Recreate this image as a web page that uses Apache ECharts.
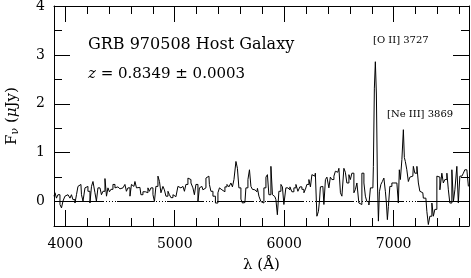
<!DOCTYPE html>
<html><head><meta charset="utf-8">
<script src="https://cdn.jsdelivr.net/npm/echarts@6/dist/echarts.min.js"></script>
<style>html,body{margin:0;padding:0;background:#fff}#c{width:471px;height:278px}</style>
</head><body><div id="c"></div>
<script>
const wave = [3897,3915,3924,3942,3961,3970,3988,4006,4016,4034,4052,4061,4079,4098,4107,4125,4143,4153,4171,4189,4198,4216,4235,4244,4262,4280,4289,4308,4326,4335,4353,4372,4381,4399,4408,4426,4445,4463,4472,4490,4509,4518,4536,4554,4563,4582,4600,4609,4627,4646,4655,
4682,4700,4719,4746,4764,4773,4792,4810,4819,4837,4856,4865,4883,4901,4910,4929,4947,4956,4974,4993,5002,5020,5038,5047,5066,5084,5093,5111,5130,5139,5157,5175,5184,5203,5221,5230,5248,5267,5276,5294,5312,5321,5340,5358,5385,5404,5413,5431,
5449,5468,5486,5504,5522,5532,5550,5568,5577,5595,5614,5623,5641,5659,5678,5687,5705,5714,5732,5751,5760,5778,5796,5805,5824,5842,5851,5869,5888,5897,5915,5933,5942,5961,5979,5988,6006,6024,6043,6061,6079,6098,6116,6134,6152,6171,
6189,6198,6216,6235,6244,6262,6280,6289,6308,6317,6326,6335,6353,6372,6381,6399,6417,6426,6445,6463,6472,6490,6509,6518,6536,6554,6563,6582,6600,6609,6627,6646,6655,6673,6691,6700,6719,6737,6746,6764,6783,6792,6810,6819,6828,6837,6847,6856,6865,6874,6892,6901,6920,6929,6938,
6947,6956,6974,6993,7011,7020,7038,7047,7056,7066,7084,7093,7102,7111,7129,7139,7157,7175,7184,7203,7221,7230,7248,7266,7276,7294,7312,7321,7340,7358,7367,7385,7404,7413,7431,7449,7458,7477,7495,7504,7522,7541,7550,7568,7586,7595,7614,7632,7641,7659,7678,7687];
const flux = [0.11,0.18,0.07,0.14,-0.06,-0.13,0.01,0.11,0.14,0.10,0.07,0.14,0.04,-0.03,0.14,0.31,0.35,0.14,0.01,0.28,0.31,0.21,-0.03,0.31,0.41,0.18,0.01,0.28,0.31,0.14,0.21,0.47,0.11,0.28,0.20,0.25,0.35,0.28,0.30,0.26,0.30,0.28,0.24,0.35,0.21,0.28,0.11,0.35,0.31,0.41,0.28,
0.29,0.14,0.20,0.18,0.28,0.21,0.28,0.14,0.00,0.31,0.52,0.41,0.18,0.31,0.24,0.11,0.21,0.14,0.08,0.14,0.10,0.14,0.31,0.28,0.31,0.28,0.21,0.35,0.48,0.45,0.38,0.28,0.14,0.35,0.00,0.28,0.31,0.24,0.28,0.48,0.52,0.35,0.21,0.11,-0.03,0.18,0.28,0.24,
0.20,0.30,0.35,0.30,0.38,0.30,0.45,0.82,0.68,0.28,0.05,-0.03,-0.02,0.28,0.45,0.65,0.31,0.25,0.24,0.20,0.27,0.11,0.00,-0.03,0.28,0.50,0.55,0.14,0.72,0.14,0.10,0.04,-0.27,0.21,0.35,0.30,-0.06,0.28,0.24,0.30,0.20,0.28,0.35,0.21,0.30,0.25,
0.18,0.25,0.35,0.45,0.30,0.55,0.52,0.58,-0.30,-0.20,0.00,0.30,0.31,-0.06,0.45,0.50,0.28,0.50,0.45,0.52,0.62,0.60,0.68,0.18,0.11,0.68,0.60,0.38,0.55,0.45,0.58,0.18,0.25,0.38,-0.03,-0.06,0.58,0.38,0.11,0.00,-0.07,0.28,0.28,0.72,2.32,2.86,2.20,0.40,-0.40,0.20,0.35,0.41,0.48,0.20,-0.03,
-0.37,-0.10,0.31,0.38,0.35,0.38,0.35,-0.03,0.65,0.45,0.86,1.47,0.90,0.82,0.65,0.41,0.50,0.52,0.72,0.58,0.72,0.38,0.21,0.18,0.07,0.07,-0.20,-0.47,-0.30,-0.03,-0.30,-0.16,0.52,0.50,0.24,0.58,0.38,0.45,0.58,0.24,-0.03,0.65,0.00,0.24,0.72,-0.03,0.52,0.52,0.58,0.65,0.69,0.31];
const xMajorTicks = [4000,5000,6000,7000];
const xMinorTicks = [4200,4400,4600,4800,5200,5400,5600,5800,6200,6400,6600,6800,7200,7400,7600];
const yMajorTicks = [0,1,2,3,4];
const yMinorTicks = [0.5,1.5,2.5,3.5];
const xRange = [3897, 7688];
const yRange = [-0.5, 4];

const FONT = 'DejaVu Serif';
const black = '#000';
function xAx(position, ticks, len, labels, line, extra) {
  return Object.assign({
    type: 'value', position: position, min: xRange[0], max: xRange[1],
    axisLine: { show: line, onZero: false, lineStyle: { color: black, width: 1 } },
    axisTick: { show: true, inside: true, length: len, customValues: ticks, lineStyle: { color: black, width: 1 } },
    axisLabel: labels ? { show: true, customValues: labels, formatter: v => String(v), color: black, fontFamily: FONT, fontSize: 14, margin: 11 } : { show: false },
    splitLine: { show: false }
  }, extra || {});
}
function yAx(position, ticks, len, labels, line, extra) {
  return Object.assign({
    type: 'value', position: position, min: yRange[0], max: yRange[1],
    axisLine: { show: line, onZero: false, lineStyle: { color: black, width: 1 } },
    axisTick: { show: true, inside: true, length: len, customValues: ticks, lineStyle: { color: black, width: 1 } },
    axisLabel: labels ? { show: true, customValues: labels, formatter: v => String(v), color: black, fontFamily: FONT, fontSize: 14, margin: 9 } : { show: false },
    splitLine: { show: false }
  }, extra || {});
}

const chart = echarts.init(document.getElementById('c'), null, { renderer: 'canvas' });
chart.setOption({
  animation: false,
  backgroundColor: '#fff',
  grid: { left: 54, right: 2, top: 6, bottom: 52, containLabel: false, outerBoundsMode: 'none' },
  xAxis: [
    xAx('bottom', xMajorTicks, 16, xMajorTicks, true, {
      name: 'λ (Å)', nameLocation: 'middle', nameGap: 32,
      nameTextStyle: { color: black, fontFamily: FONT, fontSize: 15 }
    }),
    xAx('bottom', xMinorTicks, 8, null, false),
    xAx('top', xMajorTicks, 16, null, true),
    xAx('top', xMinorTicks, 8, null, false)
  ],
  yAxis: [
    yAx('left', yMajorTicks, 16, yMajorTicks, true, {
      name: '{n|F}{s|ν} {n|(}{i|μ}{n|Jy)}', nameLocation: 'middle', nameGap: 33,
      nameTextStyle: { color: black, fontFamily: FONT, fontSize: 15,
        rich: {
          n: { fontFamily: FONT, fontSize: 15, color: black },
          s: { fontFamily: FONT, fontSize: 11, color: black, padding: [6, 0, 0, 0] },
          i: { fontFamily: FONT, fontSize: 15, fontStyle: 'italic', color: black }
        } }
    }),
    yAx('left', yMinorTicks, 8, null, false),
    yAx('right', yMajorTicks, 16, null, true),
    yAx('right', yMinorTicks, 8, null, false)
  ],
  series: [{
    type: 'line', xAxisIndex: 0, yAxisIndex: 0,
    data: wave.map((w, i) => [w, flux[i]]),
    step: 'middle', showSymbol: false, symbol: 'none',
    lineStyle: { color: black, width: 1 },
    markLine: {
      silent: true, symbol: 'none', label: { show: false },
      lineStyle: { color: black, width: 1, type: [37,2,1,2,1,2,1,2,1,1], dashOffset: 37 },
      data: [{ yAxis: 0 }]
    },
    z: 3
  }],
  graphic: [
    { type: 'text', x: 88, y: 45, style: { text: 'GRB 970508 Host Galaxy', fill: black, font: '16px "DejaVu Serif"', verticalAlign: 'middle', align: 'left' } },
    { type: 'text', x: 88, y: 74, style: { text: '{i|z} = 0.8349 ± 0.0003', fill: black, font: '15px "DejaVu Serif"', verticalAlign: 'middle', align: 'left',
        rich: { i: { fontStyle: 'italic', fontFamily: FONT, fontSize: 15, fill: black } } } },
    { type: 'text', x: 373, y: 40, style: { text: '[O II] 3727', fill: black, font: '10px "DejaVu Serif"', verticalAlign: 'middle', align: 'left' } },
    { type: 'text', x: 387, y: 114, style: { text: '[Ne III] 3869', fill: black, font: '10px "DejaVu Serif"', verticalAlign: 'middle', align: 'left' } }
  ]
});
</script></body></html>
